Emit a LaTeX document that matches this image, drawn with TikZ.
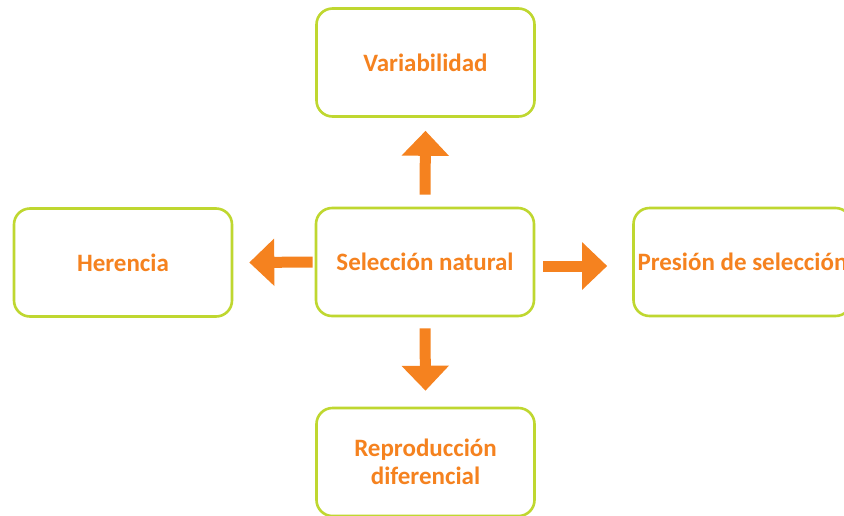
\documentclass[tikz,border=0pt]{standalone}
\usepackage{fontspec}
\setmainfont{Carlito}
\usetikzlibrary{arrows.meta}
\definecolor{boxgreen}{HTML}{BFD730}
\definecolor{arroworange}{HTML}{F5821F}
\tikzset{
  box/.style={draw=boxgreen, line width=2.6pt, rounded corners=16pt, fill=white,
    minimum width=218pt, minimum height=108pt, align=center,
    text=arroworange, font=\fontsize{25}{28}\selectfont\bfseries, inner sep=0pt},
  blockarrow/.style={draw=arroworange, line width=11pt,
    -{Triangle[width=46pt,length=25pt]}}
}
\begin{document}
\begin{tikzpicture}[x=1pt,y=-1pt]
\useasboundingbox (0,0) rectangle (844,515);
\node[box] (var) at (425.5,62.5) {Variabilidad};
\node[box] (sel) at (425,262) {Selección natural};
\node[box] (her) at (123,262.5) {Herencia};
\node[box] (pres) at (742.5,262) {Presión de selección};
\node[box] (rep) at (425.5,462) {Reproducción\\diferencial};
\draw[blockarrow] ([yshift=12pt]sel.north) -- ([yshift=-13pt]var.south);
\draw[blockarrow] ([yshift=-11pt]sel.south) -- ([yshift=16pt]rep.north);
\draw[blockarrow] ([xshift=-2pt]sel.west) -- ([xshift=16pt]her.east);
\draw[blockarrow] ([xshift=8pt,yshift=-4pt]sel.east) -- ([xshift=-25pt,yshift=-4pt]pres.west);
\end{tikzpicture}
\end{document}
